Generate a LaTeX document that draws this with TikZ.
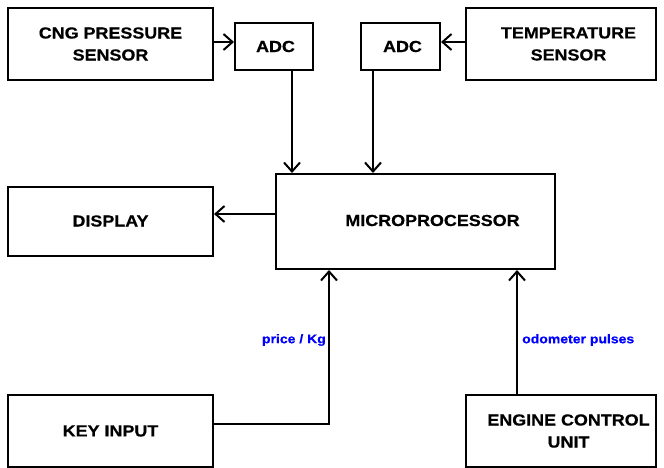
\documentclass[tikz,border=0pt]{standalone}
\usepackage{fontspec}
\setmainfont{Liberation Sans}[FakeStretch=1.12,BoldFeatures={FakeBold=0.6}]
\usetikzlibrary{arrows.meta}
\begin{document}
\begin{tikzpicture}[x=1pt,y=-1pt,
  blk/.style={draw,line width=2pt,align=center,inner sep=0pt,font=\fontsize{16}{22}\selectfont\bfseries},
  arr/.style={line width=2pt,-{Straight Barb[length=9pt,width=16pt,line width=2pt]}},
  txt/.style={align=center,inner sep=0pt,font=\fontsize{16}{22}\selectfont\bfseries},
  lbl/.style={text=blue,inner sep=0pt,font=\fontsize{12.5}{15}\selectfont\bfseries}]
\useasboundingbox (0,0) rectangle (664,468);
\node[blk,minimum width=205pt,minimum height=72pt] (cng) at (110.5,44) {CNG PRESSURE\\SENSOR};
\node[draw,line width=2pt,minimum width=78pt,minimum height=47pt] (adc1) at (274,46.5) {};
\node[txt] (adc1t) at (275.5,46.5) {ADC};
\node[draw,line width=2pt,minimum width=79pt,minimum height=47pt] (adc2) at (400.5,46.5) {};
\node[txt] (adc2t) at (402.5,46.5) {ADC};
\node[draw,line width=2pt,minimum width=190pt,minimum height=72pt] (temp) at (561,44) {};
\node[txt] (tempt) at (568.5,44) {TEMPERATURE\\SENSOR};
\node[draw,line width=2pt,minimum width=279pt,minimum height=95pt] (mp) at (415.5,221.5) {};
\node[txt] (mpt) at (432.5,220.5) {MICROPROCESSOR};
\node[blk,minimum width=205pt,minimum height=69pt] (disp) at (110.5,221) {DISPLAY};
\node[blk,minimum width=205pt,minimum height=72pt] (key) at (110.5,431) {KEY INPUT};
\node[draw,line width=2pt,minimum width=190pt,minimum height=72pt] (ecu) at (561,431) {};
\node[txt] (ecut) at (568.5,431) {ENGINE CONTROL\\UNIT};
\draw[arr] ([yshift=2pt]cng.east) -- ([yshift=2pt]cng.east -| adc1.west);
\draw[arr] ([yshift=2pt]temp.west) -- ([yshift=2pt]temp.west -| adc2.east);
\draw[arr] ([xshift=18pt]adc1.south) -- ([xshift=18pt]adc1.south |- mp.north);
\draw[arr] ([xshift=-27.5pt]adc2.south) -- ([xshift=-27.5pt]adc2.south |- mp.north);
\draw[arr] ([yshift=7.5pt]mp.west) -- ([yshift=7.5pt]mp.west -| disp.east);
\draw[arr] ([yshift=7pt]key.east) -| ([xshift=-86.5pt]mp.south);
\draw[arr] ([xshift=-44pt]ecu.north) -- ([xshift=-44pt]ecu.north |- mp.south);
\node[lbl,anchor=east] (l1) at (326,340) {price / Kg};
\node[lbl,anchor=west] (l2) at (522,340) {odometer pulses};
\end{tikzpicture}
\end{document}
